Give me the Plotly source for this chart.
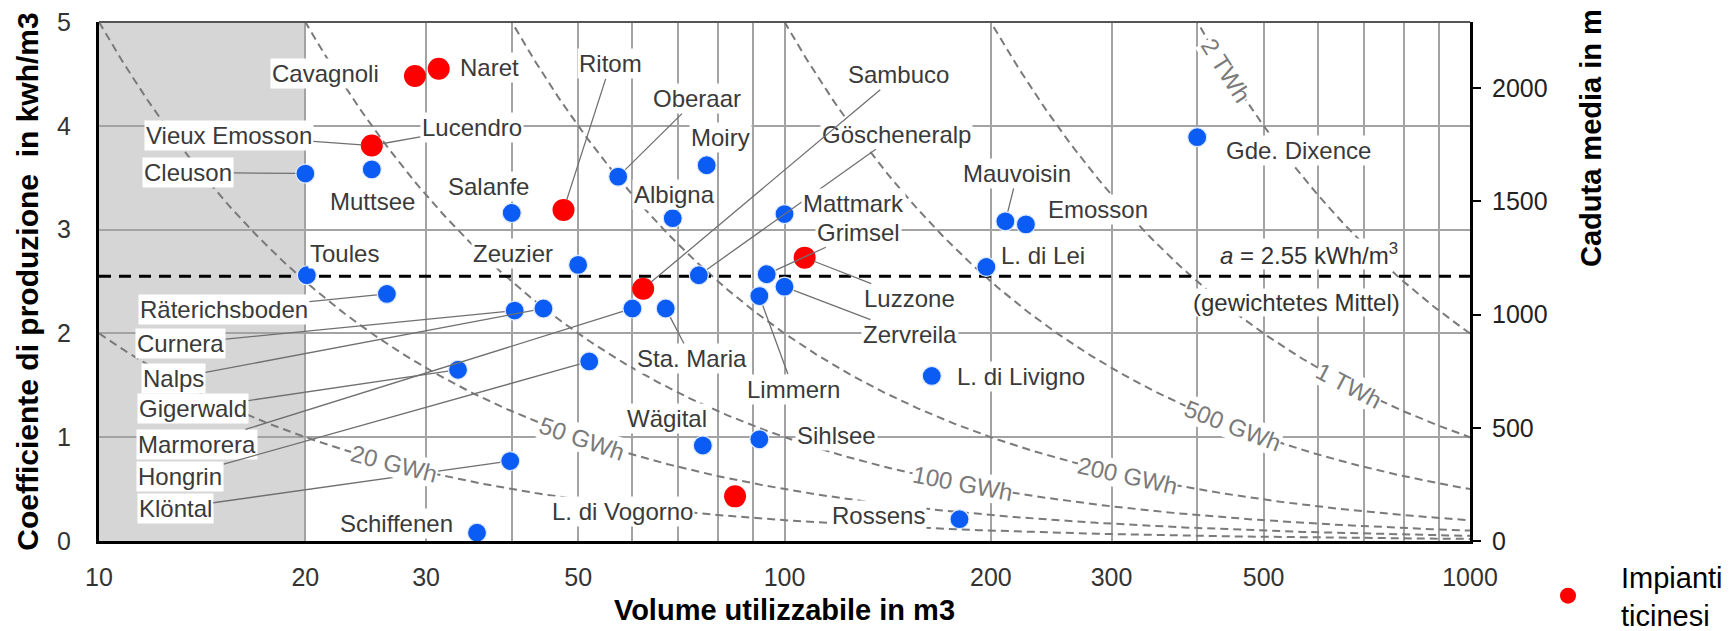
import math
import numpy as np
import plotly.graph_objects as go

# ------------------------------------------------------------------ data
ticino_names = ["Cavagnoli", "Naret", "Lucendro", "Ritom", "Sambuco", "Luzzone", "L. di Vogorno"]
ticino_volume = [28.9, 31.3, 25.0, 47.6, 62.2, 107.0, 84.7]
ticino_coeff = [4.48, 4.55, 3.81, 3.19, 2.43, 2.73, 0.43]

other_names = ["Vieux Emosson", "Cleuson", "Muttsee", "Salanfe", "Toules", "Räterichsboden",
               "Zeuzier", "Curnera", "Nalps", "Gigerwald", "Marmorera", "Hongrin", "Klöntal",
               "Schiffenen", "Oberaar", "Moiry", "Albigna", "Göscheneralp", "Mattmark", "Grimsel",
               "Zervreila", "Limmern", "Sta. Maria", "Wägital", "Sihlsee", "Mauvoisin", "Emosson",
               "L. di Lei", "L. di Livigno", "Rossens", "Gde. Dixence"]
other_volume = [25.0, 20.0, 25.0, 40.0, 20.1, 26.3,
                50.0, 40.4, 44.5, 33.4, 60.0, 51.9, 39.8,
                35.6, 57.2, 77.0, 68.7, 75.0, 100.0, 94.2,
                100.0, 91.9, 67.1, 76.0, 91.9, 210.0, 225.0,
                197.0, 164.0, 180.0, 400.0]
other_coeff = [3.81, 3.54, 3.58, 3.16, 2.56, 2.38,
               2.66, 2.22, 2.24, 1.65, 2.24, 1.73, 0.77,
               0.08, 3.51, 3.62, 3.11, 2.56, 3.15, 2.57,
               2.45, 2.36, 2.24, 0.92, 0.98, 3.08, 3.05,
               2.64, 1.59, 0.21, 3.89]

energy_gwh = [20, 50, 100, 200, 500, 1000, 2000]
energy_labels = ["20 GWh", "50 GWh", "100 GWh", "200 GWh", "500 GWh", "1 TWh", "2 TWh"]

mean_coeff = 2.55
x_tick_vals = [10, 20, 30, 50, 100, 200, 300, 500, 1000]
x_tick_text = ["10", "20", "30", "50", "100", "200", "300", "500", "1000"]
x_minor_grid = [40, 60, 70, 80, 90, 400, 600, 700, 800, 900]
y_tick_vals = [0, 1, 2, 3, 4, 5]
head_tick_vals = [0, 500, 1000, 1500, 2000]
head_per_coeff = 458.4  # m of head per kWh/m3

# ------------------------------------------------------------------ layout / style
W, H = 1736, 631
ML, MR, MT, MB = 99, 266, 22, 90
PW, PH = W - ML - MR, H - MT - MB
FONT = "Liberation Sans, Arial, sans-serif"
BLUE = "#0a5cf5"
RED = "#ff0000"
TEXT = "#3a3a3a"
CURVE = "#7a7a7a"
GRID = "#a3a3a3"

# label offsets in pixels (dx, dy screen-down) and whether a leader line is drawn
label_pos = {
    "Cavagnoli": (-89, -2, False), "Naret": (51, -1, False), "Lucendro": (100, -18, True),
    "Vieux Emosson": (-143, -10, True), "Ritom": (47, -146, True), "Sambuco": (255, -214, True),
    "Luzzone": (105, 41, True), "L. di Vogorno": (-113, 15, False),
    "Cleuson": (-117, -1, True), "Muttsee": (1, 32, False), "Salanfe": (-23, -26, False),
    "Toules": (38, -22, False), "Räterichsboden": (-163, 16, True), "Zeuzier": (-65, -11, False),
    "Curnera": (-334, 33, True), "Nalps": (-370, 70, True), "Gigerwald": (-265, 39, True),
    "Marmorera": (-435, 136, True), "Hongrin": (-409, 115, True), "Klöntal": (-335, 47, True),
    "Schiffenen": (-81, -9, False), "Oberaar": (79, -78, True), "Moiry": (14, -28, False),
    "Albigna": (2, -24, False), "Göscheneralp": (198, -141, True), "Mattmark": (69, -11, False),
    "Grimsel": (92, -42, True), "Zervreila": (125, 48, True), "Limmern": (34, 93, True),
    "Sta. Maria": (26, 50, True), "Mauvoisin": (12, -48, True), "Emosson": (72, -15, False),
    "L. di Lei": (57, -11, False), "L. di Livigno": (89, 1, False), "Wägital": (-36, -27, False),
    "Sihlsee": (77, -4, False), "Rossens": (-81, -4, False), "Gde. Dixence": (101, 13, False),
}
# where along each iso-energy curve its label sits (volume)
curve_label_volume = [26.9, 50.6, 182, 316, 450, 666, 441]

fig = go.Figure()

# iso-energy curves  E = V * a
vgrid = np.logspace(1, 3, 500)
for e in energy_gwh:
    fig.add_trace(go.Scatter(x=vgrid, y=e / vgrid, mode="lines",
                             line=dict(color=CURVE, width=2, dash="8px,5px"),
                             hoverinfo="skip", showlegend=False))

# weighted mean
fig.add_trace(go.Scatter(x=[x_tick_vals[0], x_tick_vals[-1]], y=[mean_coeff, mean_coeff],
                         mode="lines", line=dict(color="black", width=3, dash="12px,8px"),
                         hoverinfo="skip", showlegend=False))

# other plants
fig.add_trace(go.Scatter(x=other_volume, y=other_coeff, mode="markers", text=other_names,
                         marker=dict(color=BLUE, size=19, line=dict(color="#dfe9ff", width=1.2)),
                         showlegend=False, cliponaxis=False))
# Ticino plants
fig.add_trace(go.Scatter(x=ticino_volume, y=ticino_coeff, mode="markers", text=ticino_names,
                         marker=dict(color=RED, size=22),
                         name="Impianti<br>ticinesi", showlegend=True, cliponaxis=False))

# invisible trace to activate the head axis
fig.add_trace(go.Scatter(x=[x_tick_vals[0]], y=[0], yaxis="y2", mode="markers",
                         marker=dict(opacity=0), hoverinfo="skip", showlegend=False))

annotations = []
all_names = other_names + ticino_names
all_vol = other_volume + ticino_volume
all_coef = other_coeff + ticino_coeff
for n, v, c in zip(all_names, all_vol, all_coef):
    dx, dy, leader = label_pos[n]
    base = dict(x=math.log10(v), y=c, xref="x", yref="y", text=n,
                font=dict(family=FONT, size=24, color=TEXT),
                bgcolor="white", borderpad=1)
    if leader:
        base.update(showarrow=True, ax=dx, ay=dy, arrowhead=0, arrowwidth=1.3,
                    arrowcolor="#707070", standoff=10)
    else:
        base.update(showarrow=False, xshift=dx, yshift=-dy)
    annotations.append(base)

# curve labels
px_per_decade = PW / 2.0
px_per_unit = PH / 5.0
for e, lab, v in zip(energy_gwh, energy_labels, curve_label_volume):
    yv = e / v
    ang = math.degrees(math.atan(px_per_unit * yv * math.log(10) / px_per_decade))
    annotations.append(dict(x=math.log10(v), y=yv, xref="x", yref="y", text=lab,
                            textangle=ang, showarrow=False, bgcolor="white", borderpad=0,
                            font=dict(family=FONT, size=24, color=CURVE)))

# mean annotation
annotations.append(dict(x=math.log10(700), y=mean_coeff, xref="x", yref="y",
                        text="<i>a</i> = 2.55 kWh/m<sup>3</sup>", showarrow=False,
                        xshift=-55, yshift=22, bgcolor="white", borderpad=0,
                        font=dict(family=FONT, size=24, color="#333")))
annotations.append(dict(x=math.log10(700), y=mean_coeff, xref="x", yref="y",
                        text="(gewichtetes Mittel)", showarrow=False,
                        xshift=-67, yshift=-26, bgcolor="white", borderpad=0,
                        font=dict(family=FONT, size=24, color="#333")))

# right axis title
annotations.append(dict(x=(1591 - ML) / PW, y=(MT + PH - 138) / PH, xref="paper", yref="paper",
                        xanchor="center", yanchor="middle",
                        text="<b>Caduta media in m</b>", textangle=-90, showarrow=False,
                        font=dict(family=FONT, size=29, color="black")))

shapes = [
    dict(type="rect", xref="x", yref="y", x0=x_tick_vals[0], x1=20, y0=0, y1=5,
         fillcolor="#d6d6d6", line=dict(width=0), layer="below"),
    dict(type="line", xref="paper", yref="paper", x0=0, x1=1, y0=1, y1=1,
         line=dict(color="#555555", width=2)),
]

fig.update_layout(
    width=W, height=H, template="none",
    margin=dict(l=ML, r=MR, t=MT, b=MB, autoexpand=False),
    paper_bgcolor="white", plot_bgcolor="white",
    font=dict(family=FONT, color="#333"),
    xaxis=dict(type="log", range=[1, 3], tickmode="array", tickvals=x_tick_vals,
               ticktext=x_tick_text, showgrid=True, gridcolor=GRID, gridwidth=2,
               minor=dict(tickmode="array", tickvals=x_minor_grid, showgrid=True,
                          gridcolor=GRID, gridwidth=2, ticks=""),
               showline=True, linecolor="black", linewidth=3, ticks="", zeroline=False,
               ticklabelstandoff=12, tickfont=dict(family=FONT, size=25, color="#333"),
               title=dict(text="<b>Volume utilizzabile in m3</b>",
                          font=dict(family=FONT, size=29, color="black"), standoff=10)),
    yaxis=dict(range=[0, 5], tickmode="array", tickvals=y_tick_vals, showgrid=True,
               gridcolor=GRID, gridwidth=2, showline=True, linecolor="black",
               linewidth=3, ticks="", zeroline=False, ticklabelstandoff=20,
               tickfont=dict(family=FONT, size=25, color="#333"),
               title=dict(text="<b>Coefficiente di produzione  in kwh/m3</b>",
                          font=dict(family=FONT, size=30, color="black"), standoff=10)),
    yaxis2=dict(overlaying="y", side="right", range=[0, 5 * head_per_coeff],
                tickmode="array", tickvals=head_tick_vals, ticks="outside", ticklen=8,
                tickwidth=2, tickcolor="black", showline=True, linecolor="black",
                linewidth=3, showgrid=False, zeroline=False, ticklabelstandoff=6,
                tickfont=dict(family=FONT, size=25, color="#222")),
    showlegend=True,
    legend=dict(x=(1515 - ML) / PW, y=(MT + PH - 596) / PH, xanchor="left", yanchor="middle",
                bgcolor="rgba(0,0,0,0)", font=dict(family=FONT, size=29, color="black"),
                valign="middle", itemwidth=96),
    annotations=annotations,
    shapes=shapes,
)

fig.write_html("out.html")
